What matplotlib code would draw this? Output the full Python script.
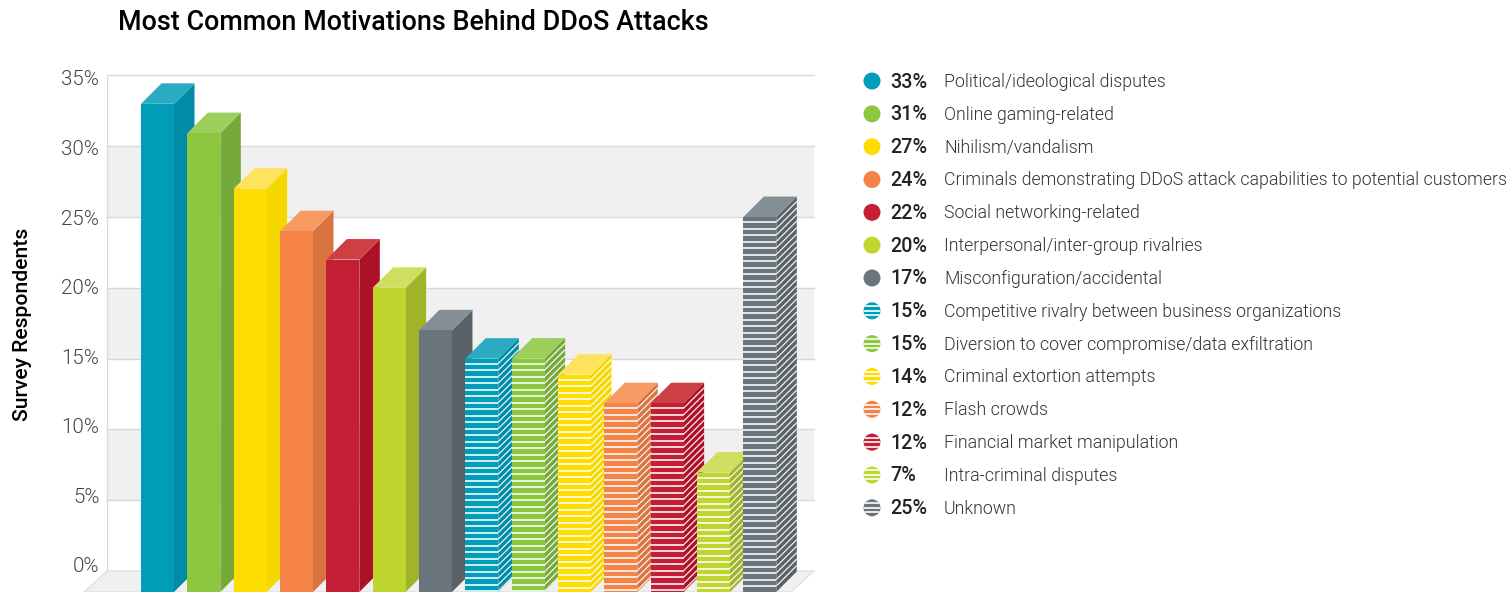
import matplotlib
matplotlib.use("Agg")
import matplotlib.pyplot as plt
from matplotlib.patches import Polygon, Circle, Rectangle
from matplotlib.transforms import ScaledTranslation

title = "Most Common Motivations Behind DDoS Attacks"
ylabel = "Survey Respondents"
bar_values = [33, 30.93, 27, 24, 22, 20, 17, 15, 15, 13.87, 11.85, 11.85, 6.95, 25]
legend_pct = ["33%", "31%", "27%", "24%", "22%", "20%", "17%", "15%", "15%", "14%", "12%", "12%", "7%", "25%"]
categories = [
    "Political/ideological disputes", "Online gaming-related", "Nihilism/vandalism",
    "Criminals demonstrating DDoS attack capabilities to potential customers",
    "Social networking-related", "Interpersonal/inter-group rivalries",
    "Misconfiguration/accidental", "Competitive rivalry between business organizations",
    "Diversion to cover compromise/data exfiltration", "Criminal extortion attempts",
    "Flash crowds", "Financial market manipulation", "Intra-criminal disputes", "Unknown",
]
striped = [False] * 7 + [True] * 7
yticks = [0, 5, 10, 15, 20, 25, 30, 35]
front = ["#009DB8", "#8DC63F", "#FFDD00", "#F58345", "#C41E35", "#BFD62E", "#6A747C"]
side = ["#008BA6", "#76A83A", "#F5D800", "#D9733F", "#AD1128", "#A0B42A", "#5A6268"]
top = ["#2BABC2", "#9CCE5C", "#FFE35F", "#F79A63", "#CC4044", "#CFDF62", "#848E95"]
color_idx = [0, 1, 2, 3, 4, 5, 6, 0, 1, 2, 3, 4, 5, 6]

W, H = 1512, 592
DPI = 100
FONT = "Roboto"
fig = plt.figure(figsize=(W / DPI, H / DPI), dpi=DPI, facecolor="white")

# chart axes: pixel geometry of the wall
L, R, T, B = 107, 814, 75.5, 592
ax = fig.add_axes([L / W, 1 - B / H, (R - L) / W, (B - T) / H])
px_y = (571 - T) / 35
px_x = 46.33
ax.set_ylim(-(B - 571) / px_y, 35)
ax.set_xlim((L - 157.5) / px_x, (R - 157.5) / px_x)
for s in ax.spines.values():
    s.set_visible(False)
ax.set_xticks([])
ax.set_yticks(yticks, [f"{t}%" for t in yticks])
ax.tick_params(axis="y", length=0, pad=5.5, labelsize=14.8, labelcolor="#444444")
ax.patch.set_visible(False)
for lab, v in zip(ax.get_yticklabels(), yticks):
    lab.set_fontfamily(FONT)
    lab.set_fontweight(300)
    off = (6 - 8.5 * v / 35) / DPI
    lab.set_transform(lab.get_transform() + ScaledTranslation(0, off, fig.dpi_scale_trans))

xl0, xl1 = ax.get_xlim()
# banded wall
for a, b in [(5, 10), (15, 20), (25, 30)]:
    ax.add_patch(Rectangle((xl0, a), xl1 - xl0, b - a, fc="#F0F0F0", ec="none", zorder=1))
for t in yticks:
    ax.plot([xl0, xl1], [t, t], color="#D9D9D9", lw=1.0, zorder=1.5, clip_on=False)
ax.plot([xl0, xl0], [0, 35], color="#D9D9D9", lw=1.0, zorder=1.5)

depth_x = 20.5 / px_x
depth_y = 20.5 / px_y
floor_dx = 23 / px_x
floor_y = -(B - 571) / px_y
ax.add_patch(Polygon([(xl0, 0), (xl1, 0), (xl1 - floor_dx, floor_y), (xl0 - floor_dx, floor_y)],
                     closed=True, fc="#F0F0F0", ec="#DDDDDD", lw=0.8, zorder=1.6, clip_on=False))

half = 16.5 / px_x
period = 6.5 / px_y
for i, (v, st, c) in enumerate(zip(bar_values, striped, color_idx)):
    z = 2 + i * 0.1
    x0, x1 = i - half, i + half
    ax.add_patch(Polygon([(x1, floor_y), (x1 + depth_x, floor_y + depth_y), (x1 + depth_x, v + depth_y), (x1, v)],
                         closed=True, fc=side[c], ec="none", zorder=z, clip_on=False))
    ax.add_patch(Polygon([(x0, v), (x1, v), (x1 + depth_x, v + depth_y), (x0 + depth_x, v + depth_y)],
                         closed=True, fc=top[c], ec="none", zorder=z, clip_on=False))
    ax.add_patch(Rectangle((x0, floor_y), x1 - x0, v - floor_y, fc=front[c], ec="none", zorder=z + 0.01, clip_on=False))
    if st:
        y = v - 0.35
        while y > floor_y:
            ax.plot([x0, x1], [y, y], color="white", lw=1.15, solid_capstyle="butt", zorder=z + 0.02, clip_on=False)
            ax.plot([x1, x1 + depth_x], [y, y + depth_y], color="white", lw=0.9, alpha=0.9,
                    solid_capstyle="butt", zorder=z + 0.005, clip_on=False)
            y -= period

fig.text(118 / W, 1 - 22 / H, title, fontfamily=FONT, fontweight=500, fontsize=19.4,
         color="black", ha="left", va="center")
fig.text(23 / W, 1 - 324 / H, ylabel, fontfamily=FONT, fontweight=500, fontsize=15.2,
         color="black", rotation=90, ha="center", va="center")

# legend axes in pixel units
lx = fig.add_axes([0, 0, 1, 1])
lx.set_xlim(0, W)
lx.set_ylim(H, 0)
lx.axis("off")
lx.patch.set_visible(False)
y0, dy = 81, 32.83
for i, (pct, name, st, c) in enumerate(zip(legend_pct, categories, striped, color_idx)):
    y = y0 + i * dy
    circ = Circle((872, y), 8.5, fc=front[c], ec="none", zorder=2)
    lx.add_patch(circ)
    if st:
        for d in (-4.5, 0, 4.5):
            ln, = lx.plot([860, 884], [y + d, y + d], color="white", lw=1.2, zorder=3, solid_capstyle="butt")
            ln.set_clip_path(circ)
    lx.text(890, y + 1, pct, fontfamily=FONT, fontweight=500, fontsize=14.2, color="#222222", va="center", ha="left")
    lx.text(944, y + 1, name, fontfamily=FONT, fontweight=300, fontsize=12.75, color="#333333", va="center", ha="left")

fig.savefig("out.png", dpi=DPI, facecolor="white")
